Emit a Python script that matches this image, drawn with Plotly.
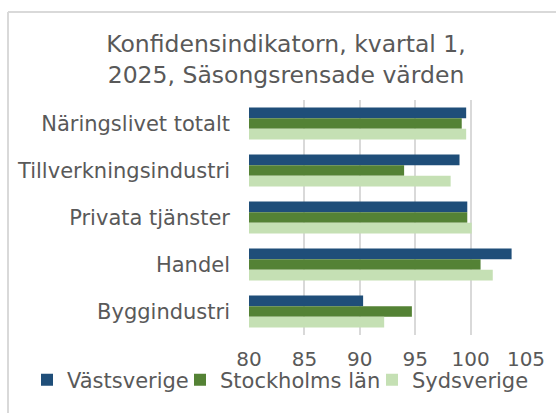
import plotly.graph_objects as go

categories = ["Näringslivet totalt", "Tillverkningsindustri", "Privata tjänster", "Handel", "Byggindustri"]
vastsverige = [99.6, 99.0, 99.7, 103.7, 90.3]
stockholm = [99.2, 94.0, 99.7, 100.9, 94.7]
sydsverige = [99.6, 98.2, 100.1, 102.0, 92.2]
series_names = ["Västsverige", "Stockholms län", "Sydsverige"]
colors = ["#1F4E79", "#548235", "#C5E0B4"]
x_ticks = [80, 85, 90, 95, 100, 105]

W, H = 556, 413
ml, mr, mt, mb = 249, 30, 100, 78
pw, ph = W - ml - mr, H - mt - mb

legend_ids = ["legend", "legend2", "legend3"]
legend_left = [27, 180, 372]

fig = go.Figure()
for name, vals, col, lg in zip(series_names, [vastsverige, stockholm, sydsverige], colors, legend_ids):
    fig.add_trace(go.Bar(
        y=categories, x=[v - 80 for v in vals], base=80, name=name, orientation="h",
        marker=dict(color=col, line=dict(width=0)), legend=lg,
        hovertemplate="%{y}: %{customdata}<extra>" + name + "</extra>", customdata=vals,
    ))

font = "DejaVu Sans, Verdana, sans-serif"
legends = {}
for lg, lx in zip(legend_ids, legend_left):
    legends[lg] = dict(orientation="h", xref="container", yref="container",
                       x=lx / W, xanchor="left", y=1 - 380 / H, yanchor="middle",
                       font=dict(size=21), itemwidth=30, bgcolor="rgba(0,0,0,0)")

fig.update_layout(
    width=W, height=H,
    margin=dict(l=ml, r=mr, t=mt, b=mb, autoexpand=False),
    paper_bgcolor="white", plot_bgcolor="white",
    barmode="group", bargap=0.32, bargroupgap=0,
    font=dict(family=font, size=20, color="#595959"),
    title=dict(text="Konfidensindikatorn, kvartal 1,<br>2025, Säsongsrensade värden",
               x=286 / W, xanchor="center", y=1 - 52 / H, yanchor="middle",
               font=dict(size=23.5, color="#595959", family=font)),
    xaxis=dict(range=[80, 105], tickvals=x_ticks, showgrid=True, gridcolor="#D9D9D9",
               gridwidth=2, zeroline=False, showline=False, ticks="", ticklen=0,
               tickfont=dict(size=20), ticklabelstandoff=10),
    yaxis=dict(autorange="reversed", showgrid=False, showline=False, ticks="",
               ticklabelstandoff=18, tickfont=dict(size=21)),
    showlegend=True,
    **legends,
)

# chart frame edges (left and top)
x0 = (8 - ml) / pw
y1 = (H - mb - 12) / ph
fig.add_shape(type="line", xref="paper", yref="paper", x0=x0, x1=(W + 10 - ml) / pw, y0=y1, y1=y1,
              line=dict(color="#D9D9D9", width=2))
fig.add_shape(type="line", xref="paper", yref="paper", x0=x0, x1=x0, y0=y1, y1=-(mb + 10) / ph,
              line=dict(color="#D9D9D9", width=2))

fig.write_html("out.html")
